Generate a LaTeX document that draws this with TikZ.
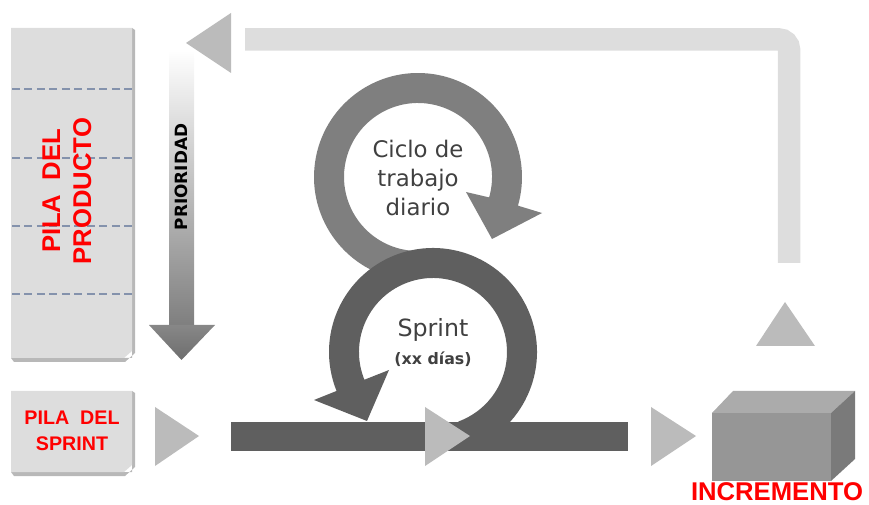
\documentclass[tikz,border=0pt]{standalone}
\usepackage{fontspec}
\setmainfont{Liberation Sans}
\newfontfamily\verdfont{DejaVu Sans}
\usepackage{tikz}
\usetikzlibrary{calc}
\definecolor{boxgray}{HTML}{DDDDDD}
\definecolor{foldgray}{HTML}{B8B8B8}
\definecolor{triangray}{HTML}{BBBBBB}
\definecolor{dailygray}{HTML}{7F7F7F}
\definecolor{sprintgray}{HTML}{5F5F5F}
\definecolor{dashblue}{HTML}{8492AC}
\definecolor{labelgray}{HTML}{404040}
\newcommand{\pilabox}[2]{
  \fill[foldgray] (14,#2) -- (125,#2) -- (135,{#2+9}) -- (135,{#1-2}) -- (132,#1) -- (132,{#2+4}) -- (11,{#2+4}) -- cycle;
  \fill[boxgray] (11,#1) -- (132,#1) -- (132,{#2+11}) -- (124,{#2+4}) -- (11,{#2+4}) -- cycle;
}

\begin{document}
\begin{tikzpicture}[x=0.02cm, y=0.02cm,
  every node/.style={inner sep=0pt},
  triangle/.style={fill=triangray},
  redlabel/.style={red, align=center},
  cyclelabel/.style={labelgray, align=center, font=\verdfont\fontsize{13}{16.4}\selectfont}]
  \useasboundingbox (0, 0) rectangle (869, 504);

  \coordinate (daily) at (418, 327);
  \coordinate (sprint) at (433, 152);

  \pilabox{476}{142}
  \pilabox{113}{28}
  \foreach \y in {415, 346, 278, 210}
    \draw[dashblue, line width=0.6pt, dash pattern=on 4.5pt off 2.6pt] (12, \y) -- (133, \y);

  \node[redlabel, rotate=90, font=\bfseries\fontsize{14.6}{17.6}\selectfont] at (67, 313) (pilaproducto) {PILA\ \ DEL\\PRODUCTO};
  \node[redlabel, font=\bfseries\fontsize{11.2}{14.8}\selectfont] at (72, 73) (pilasprint) {PILA\ \ DEL\\SPRINT};

  % prioridad
  \shade[top color=white, bottom color=dailygray] (169, 454) rectangle (194, 179);
  \shade[top color=black!47, bottom color=black!57] (149, 179) -- (215, 179) -- (181.5, 144) -- cycle;
  \node[rotate=90, font=\verdfont\bfseries\fontsize{9.6}{11}\selectfont] at (181, 327) (prioridad) {PRIORIDAD};

  % vuelta
  \draw[boxgray, line width=0.45cm, rounded corners=5.7pt] (245, 464.5) -| (789, 241);
  \fill[triangle] (186, 461) -- (231, 491) -- (231, 431) -- cycle;
  \fill[triangle] (785, 202) -- (756, 158) -- (815, 158) -- cycle;

  % ciclos
  \fill[dailygray] ($(daily)+(265:104)$) arc[start angle=265, end angle=-16, radius=104]
    -- (542, 291) -- (492, 265) -- (466, 312) -- ($(daily)+(-16:74)$)
    arc[start angle=-16, end angle=265, radius=74] -- cycle;
  \fill[sprintgray] ($(sprint)+(-70:104)$) arc[start angle=-70, end angle=202, radius=104]
    -- (314, 104) -- (367, 83) -- (389, 134) -- ($(sprint)+(202:74)$)
    arc[start angle=202, end angle=-70, radius=74] -- cycle;
  \fill[sprintgray] (231, 82) rectangle (628, 53);

  \node[cyclelabel] at (418, 326) (ciclo) {Ciclo de\\trabajo\\diario};
  \node[cyclelabel, font=\verdfont\fontsize{13.5}{16}\selectfont] at (433, 174) (sprinttext) {Sprint};
  \node[labelgray, font=\verdfont\bfseries\fontsize{9}{11}\selectfont] at (433, 145) (dias) {(xx días)};

  \fill[triangle] (155, 97) -- (155, 38) -- (199, 68) -- cycle;
  \fill[triangle] (425, 97) -- (425, 38) -- (470, 68) -- cycle;
  \fill[triangle] (651, 97) -- (651, 38) -- (696, 68) -- cycle;

  % incremento
  \fill[black!33] (712, 91) -- (733, 113) -- (855, 113) -- (831, 91) -- cycle;
  \fill[black!52] (831, 91) -- (855, 113) -- (855, 45) -- (831, 23) -- cycle;
  \fill[black!41] (712, 23) rectangle (831, 91);
  \node[red, anchor=base, font=\bfseries\fontsize{14.6}{17}\selectfont] at (777, 4) (incremento) {INCREMENTO};
\end{tikzpicture}
\end{document}
